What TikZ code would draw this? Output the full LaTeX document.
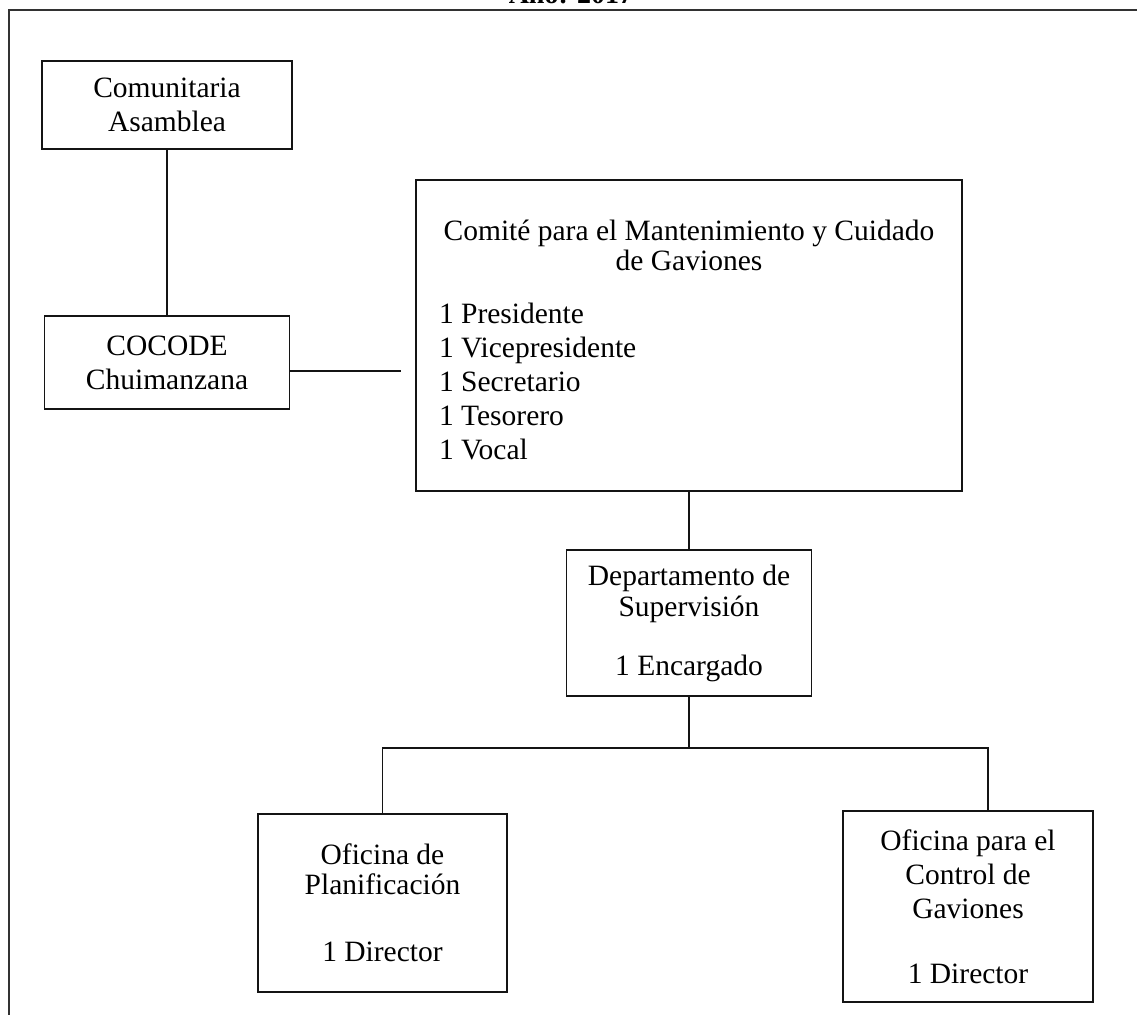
\documentclass[tikz,border=0pt]{standalone}
\usepackage{fontspec}
\setmainfont{Liberation Serif}
\usepackage{tikz}
\definecolor{box_black}{RGB}{20,20,20}
\definecolor{frame_gray}{RGB}{50,50,50}

\begin{document}
\begin{tikzpicture}[x=1pt,y=-1pt]
    \tikzstyle{unit}=[draw=box_black, line width=1.9pt, rectangle, align=center, inner sep=0pt, text=black, font=\fontsize{29.5}{34}\selectfont]
    \tikzstyle{link}=[draw=box_black, line width=1.7pt]

    \useasboundingbox (0,0) rectangle (1137,1015);
    % page frame and cut title
    \draw[frame_gray, line width=1.3pt] (1137,10) -| (9,1015);
    \node[anchor=base, font=\bfseries\fontsize{28}{30}\selectfont] (anio) at (571,3.5) {Año: 2017};

    \node[unit, minimum width=250, minimum height=88] (asamblea) at (167,105) {Comunitaria\\Asamblea};
    \node[unit, minimum width=245, minimum height=93] (cocode) at (167,362.5) {COCODE\\Chuimanzana};
    \node[unit, minimum width=546, minimum height=311] (comite) at (689,335.5)
        {\raisebox{-8pt}[\height][\depth]{\begin{tabular}{@{}l@{}}
         \makebox[500pt][c]{Comité para el Mantenimiento y Cuidado}\\[-4pt]
         \makebox[500pt][c]{de Gaviones}\\[19pt]
         1 Presidente\\ 1 Vicepresidente\\ 1 Secretario\\ 1 Tesorero\\ 1 Vocal
         \end{tabular}}};
    \node[unit, minimum width=245, minimum height=146] (dept) at (689,623) {Departamento de\\[-3pt]Supervisión\\[25pt]1 Encargado};
    \node[unit, minimum width=249, minimum height=178] (planif) at (382.5,903) {Oficina de\\[-4pt]Planificación\\[33pt]1 Director};
    \node[unit, minimum width=250, minimum height=191] (control) at (968,906.5) {Oficina para el\\Control de\\Gaviones\\[31pt]1 Director};

    \coordinate (gap_end) at (401,371);
    \coordinate (bar_left) at (382.5,748);
    \coordinate (bar_right) at (988,748);

    \path[link]
     (asamblea) edge (cocode)
     (cocode.east |- gap_end) edge (gap_end)
     (comite) edge (dept)
     (dept) edge (dept.south |- bar_left)
     ;
    \draw[link] (planif) -- (bar_left) -- (bar_right) -- (bar_right |- control.north);
\end{tikzpicture}
\end{document}
